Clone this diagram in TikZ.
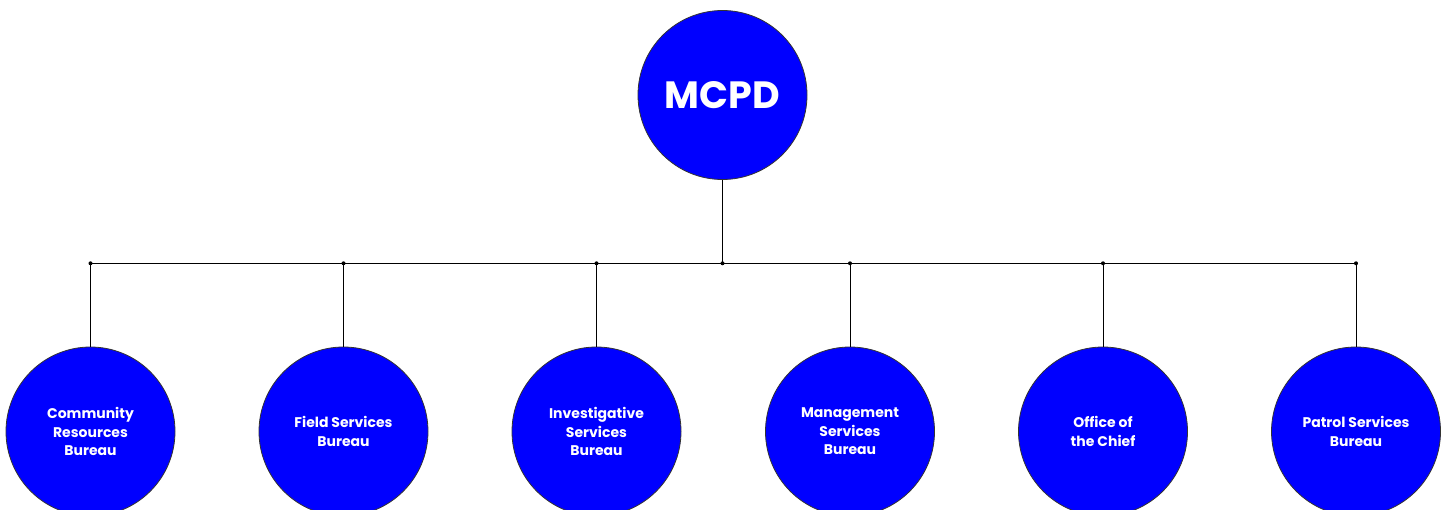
\documentclass[tikz,border=0pt]{standalone}
\usepackage{fontspec}
\setmainfont{Poppins}
\definecolor{orgblue}{RGB}{0,0,255}
\begin{document}
\begin{tikzpicture}[x=1pt,y=-1pt,
  org/.style={circle,draw=black!80,line width=0.8pt,fill=orgblue,minimum size=169pt,inner sep=0pt,
    text=white,font=\bfseries\fontsize{14}{18.5}\selectfont,align=center},
  top/.style={org,font=\bfseries\fontsize{38}{40}\selectfont},
  link/.style={draw=black,line width=0.9pt},
  jdot/.style={circle,fill=black,inner sep=0pt,minimum size=4pt}]
\useasboundingbox (0,0) rectangle (1445,510);
\node[top] (root) at (722.5,95) {MCPD};
\node[org] (c1) at (90.5,431.5) {Community\\Resources\\Bureau};
\node[org] (c2) at (343.5,431.5) {Field Services\\Bureau};
\node[org] (c3) at (596.5,431.5) {Investigative\\Services\\Bureau};
\node[org] (c4) at (850,431.5) {Management\\Services\\Bureau};
\node[org] (c5) at (1103,431.5) {Office of\\the Chief};
\node[org] (c6) at (1356,431.5) {Patrol Services\\Bureau};
\coordinate (jm) at (722.5,263.3);
\foreach \i in {1,...,6} {
  \coordinate (j\i) at (c\i.north |- jm);
}
\draw[link] (root.south) -- (jm);
\draw[link] (j1) -- (j6);
\foreach \i in {1,...,6} {
  \draw[link] (j\i) -- (c\i.north);
  \node[jdot] at (j\i) {};
}
\node[jdot] at (jm) {};
\end{tikzpicture}
\end{document}
